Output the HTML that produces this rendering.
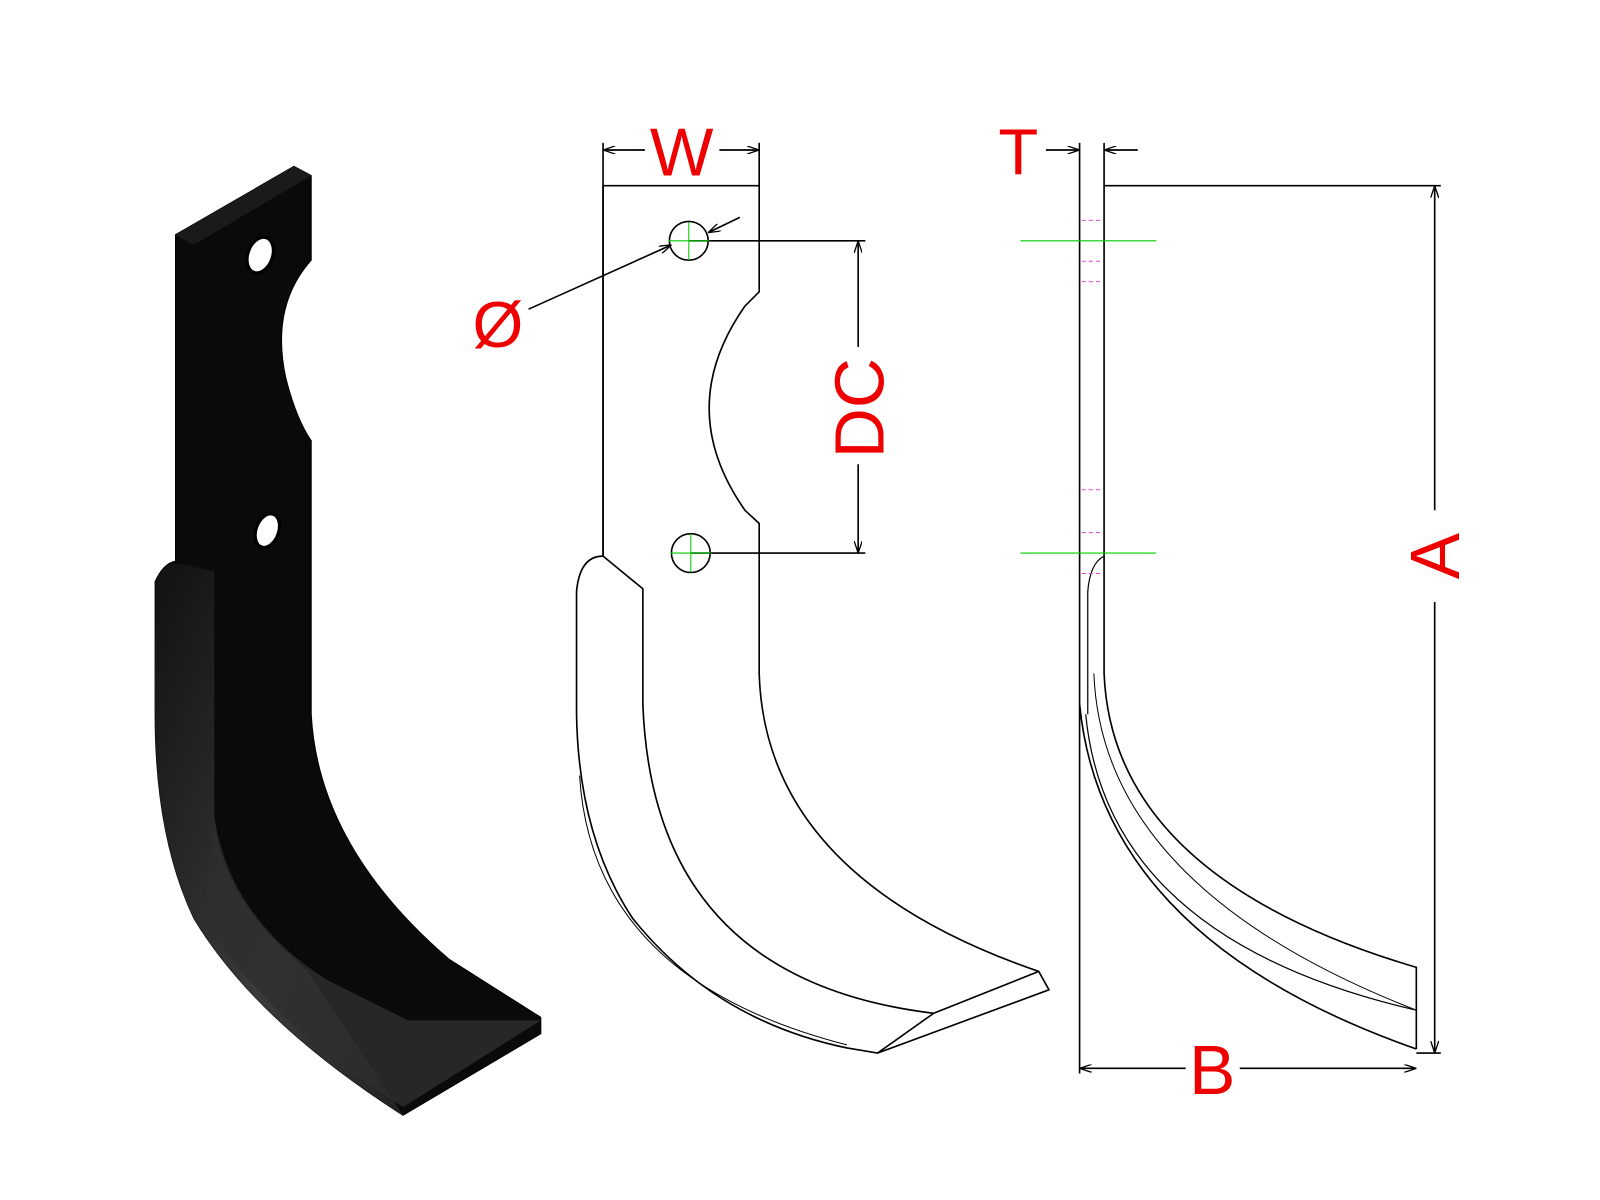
<!DOCTYPE html>
<html><head><meta charset="utf-8"><style>
html,body{margin:0;padding:0;background:#fff;}
svg{display:block;}
text{font-family:"Liberation Sans",sans-serif;fill:#ee0000;}
</style></head><body>
<svg width="1600" height="1200" viewBox="0 0 1568 1176" preserveAspectRatio="none" xmlns="http://www.w3.org/2000/svg">
<defs>
<marker id="ar" viewBox="0 0 12 8" refX="12" refY="4" markerWidth="12" markerHeight="8" orient="auto-start-reverse" markerUnits="userSpaceOnUse">
<path d="M0,0 L12,4 L0,8" fill="none" stroke="#000" stroke-width="1.3"/></marker>
<linearGradient id="g1" x1="0" y1="0" x2="1" y2="1">
<stop offset="0" stop-color="#111"/><stop offset="0.6" stop-color="#3a3a3a"/><stop offset="1" stop-color="#222"/></linearGradient>
</defs>
<path d="M172,230 L288,163 L305,172 L305,255 Q265,300 280,370 Q290,410 305,432 L305,700 Q312,830 440,940 L530,997 L530,1013 L395,1093 Q250,1000 190,900 Q152,820 152,700 L152,570 Q160,552 172,550 Z" fill="#0a0a0a" stroke="#000"/>
<path d="M210,560 L210,800 Q215,880 300,950 L395,1093 Q250,1000 190,900 Q152,820 152,700 L152,570 Q160,552 172,552 Z" fill="url(#g1)"/>
<path d="M210,800 Q225,900 320,960 L400,1000 L530,1000 L395,1085 Q260,1000 200,900 Z" fill="#2e2e2e" opacity="0.8"/>
<path d="M172,230 L288,163 L305,172 L190,240 Z" fill="#1a1a1a"/>
<ellipse cx="255" cy="250" rx="12" ry="18" transform="rotate(20 255 250)" fill="#fff" stroke="#000" stroke-width="3"/>
<ellipse cx="262" cy="520" rx="11" ry="17" transform="rotate(20 262 520)" fill="#fff" stroke="#000" stroke-width="3"/>
<g fill="none" stroke="#000" stroke-width="1.6">
<path d="M591,182 L744,182 L744,286 L730,300 Q660,400 730,500 L744,513 L744,660 Q750,860 1018,952 L1028,970 L860,1032 L830,1027 Q700,1000 620,900 Q567,820 565,700 L565,580 Q568,545 591,545 Z"/>
<line x1="591" y1="182" x2="591" y2="545"/>
<path d="M591,545 L630,577 L630,690 Q640,960 915,993 L1018,952"/>
<path d="M915,993 L860,1032"/>
<path d="M568,760 Q580,960 830,1024" stroke-width="1"/>
<circle cx="675" cy="236" r="19"/><circle cx="677" cy="542" r="19"/>
<line x1="675" y1="236" x2="848" y2="236"/><line x1="677" y1="542" x2="848" y2="542"/>
<line x1="841" y1="236" x2="841" y2="340" marker-start="url(#ar)"/>
<line x1="841" y1="455" x2="841" y2="542" marker-end="url(#ar)"/>
<line x1="591" y1="140" x2="591" y2="182"/><line x1="744" y1="140" x2="744" y2="182"/>
<line x1="591" y1="147" x2="632" y2="147" marker-start="url(#ar)"/>
<line x1="705" y1="147" x2="744" y2="147" marker-end="url(#ar)"/>
<line x1="518" y1="303" x2="658" y2="240" marker-end="url(#ar)"/>
<line x1="725" y1="213" x2="694" y2="228" marker-end="url(#ar)"/>
<line x1="1058" y1="140" x2="1058" y2="1052"/>
<path d="M1082,140 L1082,660 Q1090,860 1388,948 L1388,1028"/>
<path d="M1058,690 Q1080,920 1388,1028"/>
<path d="M1064,700 Q1085,920 1388,990" stroke-width="1.2"/>
<path d="M1072,660 Q1080,870 1388,990" stroke-width="1"/>
<path d="M1082,545 Q1068,552 1066,580 L1066,700" stroke-width="1.2"/>
<line x1="1082" y1="182" x2="1412" y2="182"/>
<line x1="1406" y1="182" x2="1406" y2="500" marker-start="url(#ar)"/>
<line x1="1406" y1="590" x2="1406" y2="1032" marker-end="url(#ar)"/>
<line x1="1388" y1="1032" x2="1412" y2="1032"/>
<line x1="1058" y1="1047" x2="1162" y2="1047" marker-start="url(#ar)"/>
<line x1="1215" y1="1047" x2="1388" y2="1047" marker-end="url(#ar)"/>
<line x1="1025" y1="147" x2="1058" y2="147" marker-end="url(#ar)"/>
<line x1="1115" y1="147" x2="1082" y2="147" marker-end="url(#ar)"/>
</g>
<g stroke="#00cc00" stroke-width="1">
<line x1="1000" y1="236" x2="1133" y2="236"/><line x1="1000" y1="542" x2="1133" y2="542"/>
<line x1="655" y1="236" x2="695" y2="236"/><line x1="675" y1="218" x2="675" y2="255"/>
<line x1="657" y1="542" x2="697" y2="542"/><line x1="677" y1="523" x2="677" y2="561"/>
</g>
<g stroke="#dd44dd" stroke-width="1" stroke-dasharray="4,3">
<line x1="1060" y1="216" x2="1080" y2="216"/><line x1="1060" y1="256" x2="1080" y2="256"/><line x1="1060" y1="276" x2="1080" y2="276"/>
<line x1="1060" y1="480" x2="1080" y2="480"/><line x1="1060" y1="522" x2="1080" y2="522"/><line x1="1060" y1="562" x2="1080" y2="562"/>
</g>
<text x="668" y="172" font-size="66" text-anchor="middle">W</text>
<text x="998" y="171" font-size="64" text-anchor="middle">T</text>
<text x="488" y="340" font-size="64" text-anchor="middle">Ø</text>
<text x="1188" y="1072" font-size="68" text-anchor="middle">B</text>
<text transform="translate(866,400) rotate(-90)" font-size="68" text-anchor="middle">DC</text>
<text transform="translate(1430,545) rotate(-90)" font-size="68" text-anchor="middle">A</text>
</svg>
</body></html>
